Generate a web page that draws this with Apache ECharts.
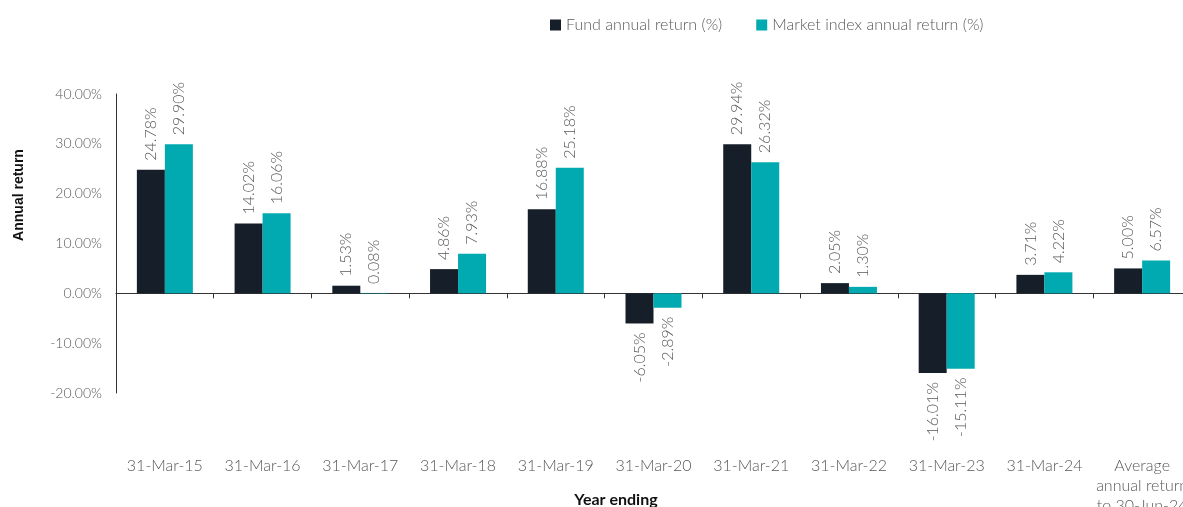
<!DOCTYPE html>
<html>
<head>
<meta charset="utf-8">
<script src="https://cdn.jsdelivr.net/npm/echarts@6/dist/echarts.min.js"></script>
<style>
  html, body { margin: 0; padding: 0; background: #fff; }
  #chart { width: 1183px; height: 507px; }
</style>
</head>
<body>
<div id="chart"></div>
<script>
const categories = ["31-Mar-15", "31-Mar-16", "31-Mar-17", "31-Mar-18", "31-Mar-19",
    "31-Mar-20", "31-Mar-21", "31-Mar-22", "31-Mar-23", "31-Mar-24",
    "Average\nannual return\nto 30-Jun-24"];
const fundReturns = [24.78, 14.02, 1.53, 4.86, 16.88, -6.05, 29.94, 2.05, -16.01, 3.71, 5.00];
const marketReturns = [29.90, 16.06, 0.08, 7.93, 25.18, -2.89, 26.32, 1.30, -15.11, 4.22, 6.57];
const seriesNames = ["Fund annual return (%)", "Market index annual return (%)"];
const colors = ["#161f29", "#00aab0"];

const font = "Lato, 'Noto Sans', sans-serif";
const grey = "#595959";

function toItems(values) {
    return values.map(v => ({
        value: v,
        label: { align: v < 0 ? "right" : "left" }
    }))
}

function makeSeries(name, values, color) {
    return {
        name: name,
        type: "bar",
        xAxisIndex: 0,
        data: toItems(values),
        barWidth: 28,
        barGap: "0%",
        itemStyle: { color: color },
        label: {
            show: true,
            position: "outside",
            rotate: 90,
            verticalAlign: "middle",
            distance: 9,
            color: grey,
            fontFamily: font,
            fontSize: 16,
            fontWeight: 300,
            formatter: p => p.value.toFixed(2) + "%"
        }
    }
}

let chart = echarts.init(document.getElementById("chart"));

let option = {
    animation: false,
    color: colors,
    legend: {
        top: 12,
        left: 545,
        itemWidth: 11,
        itemHeight: 11,
        itemGap: 34,
        icon: "rect",
        textStyle: { color: grey, fontFamily: font, fontSize: 16, fontWeight: 300 },
        data: seriesNames
    },
    grid: {
        left: 116, top: 94, width: 1075, height: 299,
        containLabel: false, outerBoundsMode: "none"
    },
    xAxis: [
        {
            // zero line with ticks between categories
            type: "category",
            data: categories,
            axisLine: { onZero: true, lineStyle: { color: "#333", width: 1 } },
            axisTick: { show: true, length: 5, lineStyle: { color: "#333" } },
            axisLabel: { show: false }
        },
        {
            // category labels sit along the bottom of the plot
            type: "category",
            data: categories,
            position: "bottom",
            axisLine: { show: false, onZero: false },
            axisTick: { show: false },
            axisLabel: {
                interval: 0,
                margin: 63,
                color: grey,
                fontFamily: font,
                fontSize: 16,
                fontWeight: 300,
                lineHeight: 20,
                align: "center"
            }
        }
    ],
    yAxis: {
        type: "value",
        min: -20,
        max: 40,
        interval: 10,
        splitLine: { show: false },
        axisLine: { show: true, lineStyle: { color: "#333", width: 1 } },
        axisTick: { show: false },
        axisLabel: {
            margin: 14,
            color: grey,
            fontFamily: font,
            fontSize: 14,
            fontWeight: 300,
            formatter: v => v.toFixed(2) + "%"
        }
    },
    graphic: [
        {
            type: "text",
            x: 19,
            y: 195,
            rotation: Math.PI / 2,
            style: {
                text: "Annual return",
                fill: "#111",
                font: "bold 14px 'Liberation Sans', Arial, sans-serif",
                align: "center",
                verticalAlign: "middle"
            }
        },
        {
            type: "text",
            x: 616,
            y: 500,
            style: {
                text: "Year ending",
                fill: "#111",
                font: "bold 16px " + font,
                align: "center",
                verticalAlign: "middle"
            }
        }
    ],
    series: [
        makeSeries(seriesNames[0], fundReturns, colors[0]),
        makeSeries(seriesNames[1], marketReturns, colors[1])
    ]
};

chart.setOption(option);
</script>
</body>
</html>
